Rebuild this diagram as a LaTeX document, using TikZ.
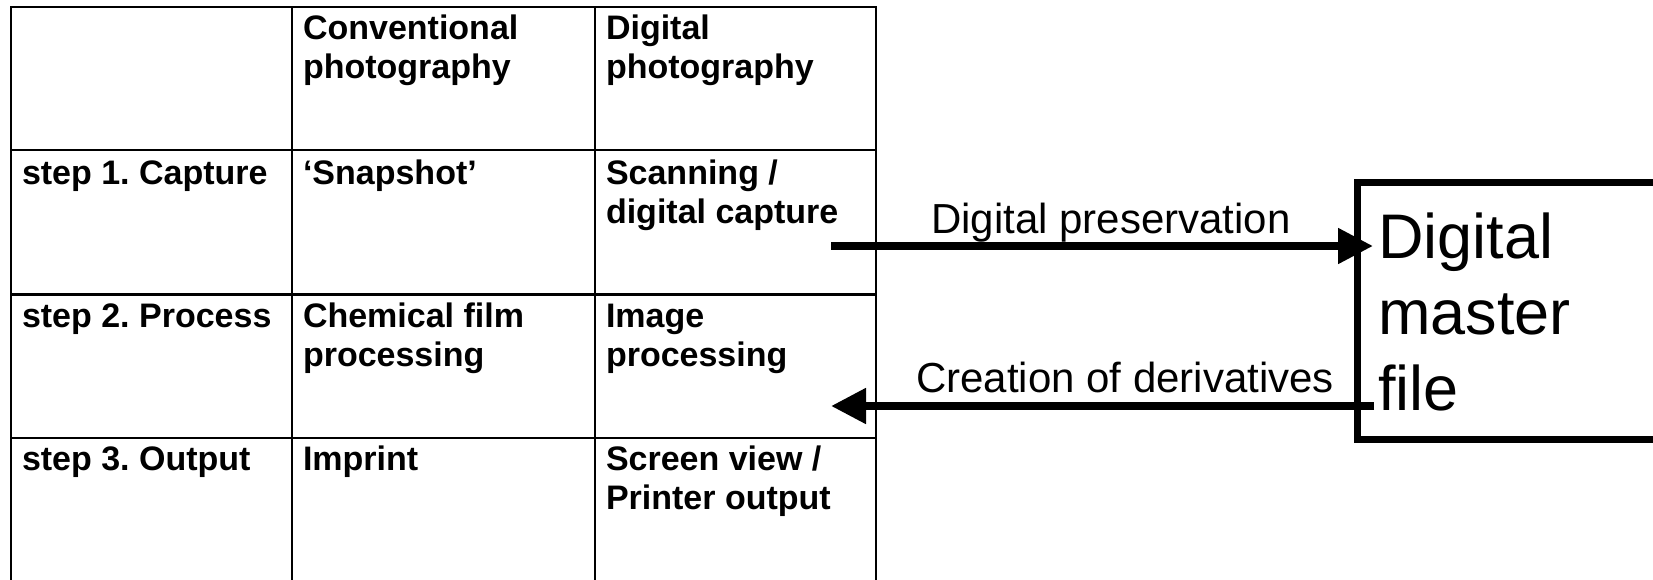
\documentclass[tikz,border=0pt]{standalone}
\usepackage{fontspec}
\setmainfont{Liberation Sans}
\usetikzlibrary{arrows.meta}
\frenchspacing
\tikzset{
  grid/.style={line width=1.8pt, line cap=rect},
  % multi-line cells sit on the baseline of their last line
  cell/.style={anchor=base west, align=left, inner sep=0pt, outer sep=0pt,
    font=\bfseries\fontsize{34}{39}\selectfont},
  flow/.style={line width=8pt, -{Triangle[length=35pt,width=34pt]}},
  flowlabel/.style={anchor=base, inner sep=0pt, font=\fontsize{42}{48}\selectfont},
  masterbox/.style={draw, line width=7pt, rectangle, inner sep=0pt, outer sep=0pt,
    anchor=north west, minimum width=360pt, minimum height=257pt},
  mastertext/.style={anchor=base west, align=left, inner sep=0pt,
    font=\fontsize{63}{76}\selectfont},
}
\begin{document}
\begin{tikzpicture}[x=1pt,y=-1pt]
  \useasboundingbox (0,0) rectangle (1653,579);

  % table grid
  \draw[grid] (11,7) -- (876,7);
  \draw[grid] (11,150) -- (876,150);
  \draw[grid, line width=2.4pt] (11,294.5) -- (876,294.5);
  \draw[grid] (11,438) -- (876,438);
  \draw[grid] (11,7) -- (11,600);
  \draw[grid] (292,7) -- (292,600);
  \draw[grid] (595,7) -- (595,600);
  \draw[grid] (876,7) -- (876,600);

  % header row
  \node[cell] (hconv) at (303,78) {Conventional\\photography};
  \node[cell] (hdig)  at (606,78) {Digital\\photography};

  % step 1
  \node[cell] (s1)    at (22,184)  {step 1. Capture};
  \node[cell] (s1c)   at (303,184) {‘Snapshot’};
  \node[cell] (s1d)   at (606,223) {Scanning /\\digital capture};

  % step 2
  \node[cell] (s2)    at (22,327)  {step 2. Process};
  \node[cell] (s2c)   at (303,366) {Chemical film\\processing};
  \node[cell] (s2d)   at (606,366) {Image\\processing};

  % step 3
  \node[cell] (s3)    at (22,470)  {step 3. Output};
  \node[cell] (s3c)   at (303,470) {Imprint};
  \node[cell] (s3d)   at (606,509) {Screen view /\\Printer output};

  % master file box (runs off the right edge)
  \node[masterbox] (master) at (1357,182) {};
  \node[mastertext] (mtext) at (1378,410) {Digital\\master\\file};

  % connectors
  \coordinate (capOut) at (831,246);
  \coordinate (derIn)  at (831,406);
  \draw[flow] (capOut) -- ([xshift=16pt]master.west |- capOut);
  \draw[flow] ([xshift=17pt]master.west |- derIn) -- (derIn);

  \node[flowlabel] (lpres) at (1111,233) {Digital preservation};
  \node[flowlabel] (lderiv) at (1125,392) {Creation of derivatives};
\end{tikzpicture}
\end{document}
